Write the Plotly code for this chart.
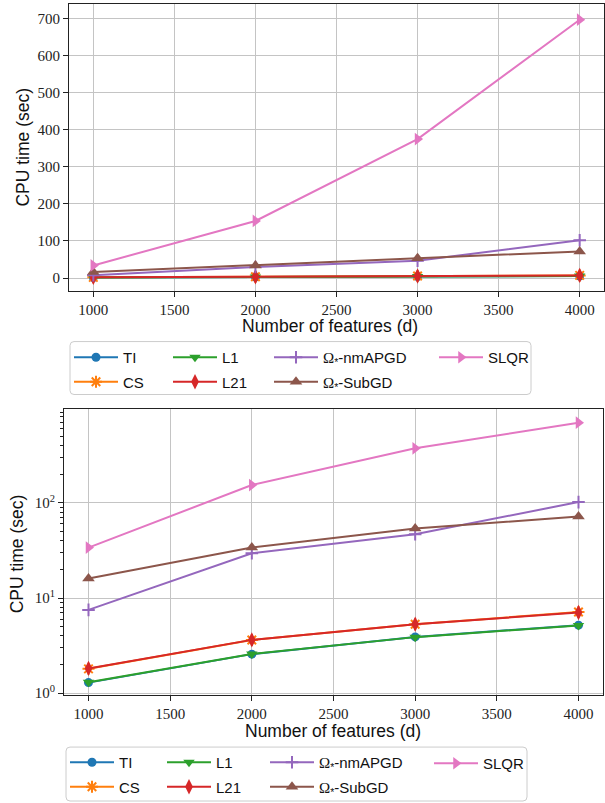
import plotly.graph_objects as go

W, H = 605, 803

# ---- data ----
features = [1000, 2000, 3000, 4000]
ti = [1.29, 2.57, 3.90, 5.18]
cs = [1.80, 3.62, 5.30, 7.12]
l1 = [1.30, 2.58, 3.88, 5.15]
l21 = [1.82, 3.63, 5.31, 7.04]
nmapgd = [7.5, 29.6, 46.8, 102.0]
subgd = [16.0, 33.9, 53.7, 71.8]
slqr = [33.9, 154.0, 375.0, 697.0]

x_ticks = [1000, 1500, 2000, 2500, 3000, 3500, 4000]
lin_ticks = [0, 100, 200, 300, 400, 500, 600, 700]
log_ticks = [1, 10, 100]
log_tick_text = ["10<sup>0</sup>", "10<sup>1</sup>", "10<sup>2</sup>"]

OM = '<span style="font-family:Liberation Serif">Ω</span><sub>*</sub>'
names = ["TI", "CS", "L1", "L21", OM + "-nmAPGD", OM + "-SubGD", "SLQR"]
series = [ti, cs, l1, l21, nmapgd, subgd, slqr]
colors = ["#1f77b4", "#ff7f0e", "#2ca02c", "#d62728", "#9467bd", "#8c564b", "#e377c2"]
symbols = ["circle", "asterisk-open", "triangle-down", "diamond-tall",
           "cross-thin-open", "triangle-up", "triangle-right"]
msizes = [9, 10, 10, 11, 9, 11, 11]
legend_col = [0, 0, 1, 1, 2, 2, 3]


def px(x):
    return x / W


def py(y):
    return 1 - y / H


fig = go.Figure()

for panel, (xa, ya) in enumerate([("x", "y"), ("x2", "y2")]):
    for i, (nm, s) in enumerate(zip(names, series)):
        leg_idx = panel * 4 + legend_col[i] + 1
        leg = "legend" if leg_idx == 1 else f"legend{leg_idx}"
        open_sym = symbols[i].endswith("open")
        fig.add_trace(go.Scatter(
            x=features, y=s, name=nm, mode="lines+markers",
            xaxis=xa, yaxis=ya, legend=leg, legendgroup=f"g{panel}_{i}",
            line=dict(color=colors[i], width=2),
            marker=dict(symbol=symbols[i], size=msizes[i], color=colors[i],
                        line=dict(color=colors[i], width=2 if open_sym else 0)),
        ))

axis_common = dict(
    showline=True, mirror=True, linecolor="#222", linewidth=1,
    ticks="outside", ticklen=5, tickcolor="#222", tickwidth=1,
    showgrid=True, gridcolor="#c4c4c4", gridwidth=1, zeroline=False,
    tickfont=dict(family="Liberation Serif", size=15, color="#222"),
    automargin=False,
)

fig.update_layout(
    width=W, height=H, margin=dict(l=0, r=0, t=0, b=0),
    paper_bgcolor="white", plot_bgcolor="white",
    xaxis=dict(axis_common, domain=[px(69), px(604)], range=[850, 4150],
               tickvals=x_ticks, anchor="y"),
    yaxis=dict(axis_common, domain=[py(291), py(4.5)], range=[-34, 738],
               tickvals=lin_ticks, anchor="x"),
    xaxis2=dict(axis_common, domain=[px(64), px(603)], range=[850, 4150],
                tickvals=x_ticks, anchor="y2"),
    yaxis2=dict(axis_common, domain=[py(696), py(410)], type="log",
                range=[-0.021, 2.982], tickvals=log_ticks, ticktext=log_tick_text,
                anchor="x2",
                minor=dict(ticks="outside", ticklen=3, tickcolor="#222", showgrid=False,
                           tickvals=[2, 3, 4, 5, 6, 7, 8, 9, 20, 30, 40, 50, 60, 70, 80, 90,
                                     200, 300, 400, 500, 600, 700, 800, 900])),
    showlegend=True,
)

# legends: 4 columns per panel
col_centers = [[92, 191, 292, 457], [88, 185, 288, 452]]
row1_y = [356, 762]
for panel in range(2):
    for c in range(4):
        idx = panel * 4 + c + 1
        key = "legend" if idx == 1 else f"legend{idx}"
        fig.update_layout({key: dict(
            x=px(col_centers[panel][c] - 23), y=py(row1_y[panel] - 15),
            xanchor="left", yanchor="top", orientation="v",
            bgcolor="rgba(0,0,0,0)", borderwidth=0,
            font=dict(family="Liberation Sans", size=15, color="#111"),
            tracegroupgap=2, itemwidth=44,
        )})


def rounded_box(x0, y0, x1, y1, r=4):
    X0, X1 = px(x0), px(x1)
    Y0, Y1 = py(y0), py(y1)
    rx, ry = r / W, r / H
    return (f"M {X0+rx},{Y0} L {X1-rx},{Y0} Q {X1},{Y0} {X1},{Y0-ry} "
            f"L {X1},{Y1+ry} Q {X1},{Y1} {X1-rx},{Y1} L {X0+rx},{Y1} "
            f"Q {X0},{Y1} {X0},{Y1+ry} L {X0},{Y0-ry} Q {X0},{Y0} {X0+rx},{Y0} Z")


for box in [(70, 342, 531, 395), (66, 748, 527, 802)]:
    fig.add_shape(type="path", xref="paper", yref="paper", path=rounded_box(*box),
                  line=dict(color="#cccccc", width=1), fillcolor="rgba(255,255,255,0.8)",
                  layer="below")

title_font = dict(family="Liberation Sans", size=17.5, color="#111")
ann = dict(xref="paper", yref="paper", showarrow=False, font=title_font,
           xanchor="center", yanchor="middle")
fig.add_annotation(text="CPU time (sec)", x=px(23), y=py(147.75), textangle=-90, **ann)
fig.add_annotation(text="CPU time (sec)", x=px(17), y=py(555), textangle=-90, **ann)
fig.add_annotation(text="Number of features (d)", x=px(330), y=py(326), **ann)
fig.add_annotation(text="Number of features (d)", x=px(333), y=py(732), **ann)

fig.write_html("out.html", config={"displayModeBar": False},
               post_script="document.body.style.margin='0';"
               "document.body.style.overflow='hidden';")
